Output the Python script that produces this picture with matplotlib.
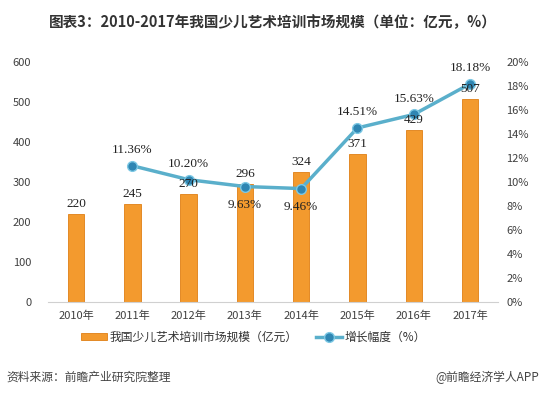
import matplotlib
matplotlib.use("Agg")
import matplotlib.pyplot as plt
from matplotlib.ticker import FuncFormatter

plt.rcParams["font.family"] = ["Noto Sans CJK SC", "DejaVu Sans"]

years = ["2010年", "2011年", "2012年", "2013年", "2014年", "2015年", "2016年", "2017年"]
market_size = [220, 245, 270, 296, 324, 371, 429, 507]  # 亿元
growth = [None, 11.36, 10.20, 9.63, 9.46, 14.51, 15.63, 18.18]  # %
growth_label_below = [False, False, False, True, True, False, False, False]

BAR_COLOR = "#F39A2E"
LINE_COLOR = "#5AAFCB"
MARKER_COLOR = "#2F86B3"
TEXT_COLOR = "#404040"

fig = plt.figure(figsize=(5.45, 3.95), dpi=100)
ax = fig.add_axes([0.088, 0.235, 0.826, 0.608])
ax2 = ax.twinx()

x = list(range(len(years)))
ax.bar(x, market_size, width=0.29, color=BAR_COLOR, edgecolor="#E07F14",
       linewidth=0.6, label="我国少儿艺术培训市场规模（亿元）", zorder=2)

gx = [xi for xi, g in zip(x, growth) if g is not None]
gy = [g for g in growth if g is not None]
ax2.plot(gx, gy, color=LINE_COLOR, lw=2.5, marker="o", markersize=7,
         markerfacecolor=MARKER_COLOR, markeredgecolor="#7CC8E4", markeredgewidth=1,
         label="增长幅度（%）", zorder=3)

# bar labels drawn on top axes so they sit above the line
for xi, v in zip(x, market_size):
    ax2.annotate(str(v), (xi, v), xycoords=ax.transData, xytext=(0, 3),
                 textcoords="offset points", ha="center", va="bottom", fontsize=9.5,
                 family="Liberation Serif", color="#222222", zorder=5)
for xi, g, below in zip(x, growth, growth_label_below):
    if g is None:
        continue
    off = -9 if below else 7
    ax2.annotate(f"{g:.2f}%", (xi, g), xytext=(0, off), textcoords="offset points",
                 ha="center", va="top" if below else "bottom", fontsize=9.5,
                 family="Liberation Serif", color="#222222", zorder=5)

ax.set_xlim(-0.5, len(years) - 0.5)
ax.set_ylim(0, 600)
ax.set_yticks(range(0, 601, 100))
ax2.set_ylim(0, 20)
ax2.set_yticks(range(0, 21, 2))
ax2.yaxis.set_major_formatter(FuncFormatter(lambda v, p: f"{int(v)}%"))

ax.set_xticks(x)
ax.set_xticklabels(years)
for a in (ax, ax2):
    for s in a.spines.values():
        s.set_visible(False)
    a.tick_params(length=0, labelsize=8, colors=TEXT_COLOR)
ax.spines["bottom"].set_visible(True)
ax.spines["bottom"].set_color("#D0D0D0")
ax.tick_params(axis="y", pad=12)
ax.tick_params(axis="x", pad=6)
ax2.tick_params(axis="y", pad=6)
ax.set_zorder(ax2.get_zorder() - 1)
ax2.patch.set_visible(False)

h1, l1 = ax.get_legend_handles_labels()
h2, l2 = ax2.get_legend_handles_labels()
fig.legend(h1 + h2, l1 + l2, loc="center", bbox_to_anchor=(0.465, 0.147), ncol=2,
           frameon=False, fontsize=8.5, handlelength=2.2, handleheight=0.5,
           columnspacing=1.6, handletextpad=0.2, labelcolor="#333333")

fig.text(0.5, 0.944, "图表3：2010-2017年我国少儿艺术培训市场规模（单位：亿元，%）",
         ha="center", va="center", fontsize=10.5, fontweight="bold", color="#333333")
fig.text(0.012, 0.045, "资料来源：前瞻产业研究院整理", ha="left", va="center",
         fontsize=8.5, style="italic", color="#444444")
fig.text(0.99, 0.045, "@前瞻经济学人APP", ha="right", va="center",
         fontsize=8.5, color="#444444")

fig.savefig("out.png", dpi=100)
